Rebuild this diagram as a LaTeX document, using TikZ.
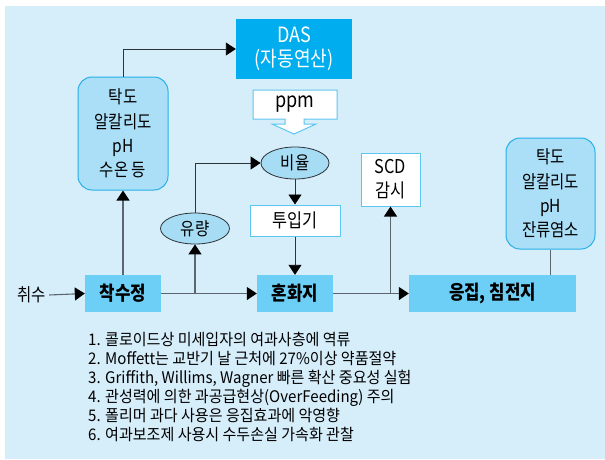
\documentclass[tikz,border=0pt]{standalone}
\usepackage{fontspec}
\setmainfont{Noto Sans CJK KR}
\newfontfamily\kr[FakeStretch=0.86]{Noto Sans CJK KR}
\newfontfamily\krl[FakeStretch=0.94]{Noto Sans CJK KR}
\usetikzlibrary{arrows.meta,shapes.geometric}
\definecolor{bgc}{HTML}{D6EDFA}
\definecolor{dasc}{HTML}{00AEEF}
\definecolor{mainc}{HTML}{6DCFF6}
\definecolor{rfill}{HTML}{AADFF7}
\definecolor{rborder}{HTML}{29B0E8}
\definecolor{efill}{HTML}{A6DCF4}
\definecolor{wborder}{HTML}{5CC6F0}
\definecolor{linec}{HTML}{2E3338}
\definecolor{mainline}{HTML}{5C666E}
\begin{document}
\begin{tikzpicture}[x=1pt,y=-1pt,
  line/.style={draw=linec, line width=0.9pt},
  mline/.style={draw=mainline, line width=1.1pt},
  arr/.style={-{Triangle[length=10pt,width=13pt,color=black]}},
  mainbox/.style={fill=mainc, minimum height=37pt, inner sep=0pt, font=\kr\fontsize{19.5}{20}\selectfont\bfseries},
  rbox/.style={draw=rborder, line width=1pt, fill=rfill, rounded corners=14pt, align=center, inner sep=0pt, font=\kr\fontsize{18}{24.3}\selectfont},
  wbox/.style={draw=wborder, line width=1pt, fill=white, inner sep=0pt, align=center, font=\kr\fontsize{19}{24}\selectfont},
  ell/.style={ellipse, draw=linec, line width=0.8pt, fill=efill, inner sep=0pt, font=\kr\fontsize{18}{20}\selectfont}]
\useasboundingbox (0,0) rectangle (605,459);
\fill[bgc] (5,6) rectangle (605,459);

% top boxes
\node[fill=dasc, minimum width=116pt, minimum height=60pt, inner sep=0pt, align=center, text=white, font=\kr\fontsize{21}{24}\selectfont] (das) at (294,49) {DAS\\(자동연산)};
\node[rbox, minimum width=90pt, minimum height=113pt] (lbox) at (123,133.5) {탁도\\알칼리도\\pH\\수온 등};
\node[rbox, minimum width=89pt, minimum height=111pt] (rbx) at (550.5,193.5) {탁도\\알칼리도\\pH\\잔류염소};
\node[wbox, minimum width=59pt, minimum height=53pt] (scd) at (390.5,179.5) {SCD\\감시};
\node[wbox, minimum width=90pt, minimum height=31pt] (tuip) at (295,220.5) {투입기};
\node[ell, minimum width=68pt, minimum height=32pt] (biyul) at (295,163) {비율};
\node[ell, minimum width=69pt, minimum height=31pt] (yuryang) at (195,228.5) {유량};

% ppm callout
\filldraw[fill=white, draw=wborder, line width=1pt]
  (253,90) -- (337,90) -- (337,119) -- (304,119) -- (304,124) -- (316,124) -- (294,134)
  -- (272,124) -- (285,124) -- (285,119) -- (253,119) -- cycle;
\node[font=\kr\fontsize{21}{22}\selectfont, inner sep=0pt] (ppm) at (295,104) {ppm};

% main row
\node[font=\kr\fontsize{18}{20}\selectfont, inner sep=0pt, outer sep=3pt] (chwisu) at (32,295) {취수};
\node[mainbox, minimum width=76pt] (chak) at (123,293.5) {착수정};
\node[mainbox, minimum width=76pt] (honhwa) at (295,293.5) {혼화지};
\node[mainbox, minimum width=167pt] (eung) at (492.5,293.5) {응집, 침전지};
\coordinate (j1) at (195,294);
\coordinate (j2) at (390.5,294);

% connectors
\draw[mline, arr] (chwisu.east) -- (chak.west);
\draw[mline, arr] (chak.east) -- (honhwa.west);
\draw[mline, arr] (honhwa.east) -- (eung.west);
\draw[mline, arr] (j1) -- (yuryang.south);
\draw[mline, arr] (j2) -- (scd.south);
\draw[mline] (rbx.south) -- (rbx.south |- eung.north);
\draw[mline, arr] (chak.north) -- (lbox.south);
\draw[line, arr] (lbox.north) |- (das.west);
\draw[line, arr] (yuryang.north) |- (biyul.west);
\draw[line, arr] (biyul.south) -- (tuip.north);
\draw[line, arr] (tuip.south) -- (honhwa.north);

% notes
\node[anchor=west, align=left, inner sep=0pt, font=\krl\fontsize{16}{19}\selectfont] (notes) at (88,386.5) {%
1. 콜로이드상 미세입자의 여과사층에 역류\\
2. Moffett는 교반기 날 근처에 27\%이상 약품절약\\
3. Griffith, Willims, Wagner 빠른 확산 중요성 실험\\
4. 관성력에 의한 과공급현상(OverFeeding) 주의\\
5. 폴리머 과다 사용은 응집효과에 악영향\\
6. 여과보조제 사용시 수두손실 가속화 관찰};
\end{tikzpicture}
\end{document}
